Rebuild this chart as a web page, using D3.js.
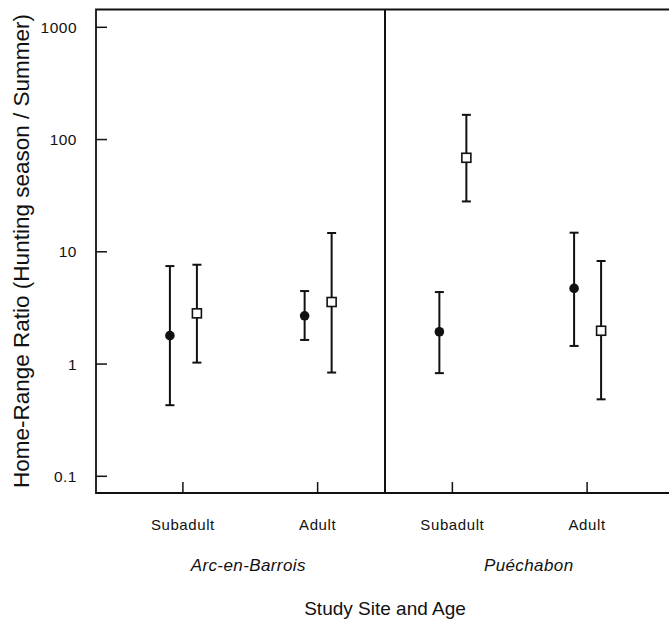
<!DOCTYPE html>
<meta charset="utf-8">
<style>
body { margin: 0; background: #fff; }
text { font-family: 'Liberation Sans', Arial, sans-serif; fill: #111; }
</style>
<body>
<script src="https://d3js.org/d3.v7.min.js"></script>
<script>
	// data
	var categories = ["arc-sub", "arc-adult", "pue-sub", "pue-adult"];
	var ageLabels = ["Subadult", "Adult", "Subadult", "Adult"];
	var siteLabels = ["Arc-en-Barrois", "Puéchabon"];
	var yTicks = [0.1, 1, 10, 100, 1000];

	// filled circles
	var circleMean = [1.79, 2.69, 1.94, 4.72];
	var circleLow  = [0.43, 1.64, 0.83, 1.45];
	var circleHigh = [7.46, 4.47, 4.38, 14.8];

	// open squares
	var squareMean = [2.83, 3.57, 68.8, 1.98];
	var squareLow  = [1.03, 0.84, 28.1, 0.485];
	var squareHigh = [7.67, 14.7, 166, 8.28];

	var width = 669, height = 631;
	var plotLeft = 96, plotRight = 674, plotTop = 9.5, plotBottom = 493;
	var ink = "#111";

	var svg = d3.select("body").append("svg")
		.attr("width", width)
		.attr("height", height);

	var x = d3.scalePoint()
		.domain(categories)
		.range([plotLeft, plotRight])
		.padding(0.645);

	var y = d3.scaleLog()
		.domain([0.1, 1000])
		.range([476.3, 27.3]);

	// frame
	svg.append("path")
		.attr("d", "M" + plotRight + "," + plotTop + "H" + plotLeft + "V" + plotBottom + "H" + plotRight)
		.attr("fill", "none")
		.style("stroke", ink)
		.style("stroke-width", 1.8);

	// site divider
	var mid = (x(categories[1]) + x(categories[2])) / 2;
	svg.append("line")
		.attr("x1", mid).attr("x2", mid)
		.attr("y1", plotTop).attr("y2", plotBottom)
		.style("stroke", ink)
		.style("stroke-width", 2);

	// y axis ticks (inward)
	var yAxis = svg.append("g");
	yTicks.forEach(function(t) {
		yAxis.append("line")
			.attr("x1", plotLeft).attr("x2", plotLeft + 11)
			.attr("y1", y(t)).attr("y2", y(t))
			.style("stroke", ink)
			.style("stroke-width", 1.5);
		yAxis.append("text")
			.attr("x", 77)
			.attr("y", y(t))
			.attr("dy", "0.36em")
			.attr("text-anchor", "end")
			.style("font-size", "15.5px")
			.style("letter-spacing", "0.5px")
			.text(t);
	});

	// x axis ticks (inward) and labels
	categories.forEach(function(c, i) {
		svg.append("line")
			.attr("x1", x(c)).attr("x2", x(c))
			.attr("y1", plotBottom).attr("y2", plotBottom - 11)
			.style("stroke", ink)
			.style("stroke-width", 1.5);
		svg.append("text")
			.attr("x", x(c))
			.attr("y", 530)
			.attr("text-anchor", "middle")
			.style("font-size", "15px")
			.style("letter-spacing", "0.6px")
			.text(ageLabels[i]);
	});

	// site labels
	siteLabels.forEach(function(s, i) {
		var cx = (x(categories[i * 2]) + x(categories[i * 2 + 1])) / 2 + (i == 1 ? 9 : -2);
		svg.append("text")
			.attr("x", cx)
			.attr("y", 571)
			.attr("text-anchor", "middle")
			.style("font-size", "17px")
			.style("font-style", "italic")
			.style("letter-spacing", "0.4px")
			.text(s);
	});

	// axis titles
	svg.append("text")
		.attr("x", 385)
		.attr("y", 615)
		.attr("text-anchor", "middle")
		.style("font-size", "19px")
		.text("Study Site and Age");

	svg.append("text")
		.attr("transform", "translate(29," + 251 + ") rotate(-90)")
		.attr("text-anchor", "middle")
		.style("font-size", "22.5px")
		.text("Home-Range Ratio (Hunting season / Summer)");

	// error bars
	function errorBars(mean, low, high, dx) {
		var g = svg.append("g");
		categories.forEach(function(c, i) {
			var px = x(c) + dx;
			g.append("line")
				.attr("x1", px).attr("x2", px)
				.attr("y1", y(low[i])).attr("y2", y(high[i]))
				.style("stroke", ink)
				.style("stroke-width", 2);
			[low[i], high[i]].forEach(function(v) {
				g.append("line")
					.attr("x1", px - 4.5).attr("x2", px + 4.5)
					.attr("y1", y(v)).attr("y2", y(v))
					.style("stroke", ink)
					.style("stroke-width", 2);
			});
		});
		return g;
	}

	var gc = errorBars(circleMean, circleLow, circleHigh, -13);
	categories.forEach(function(c, i) {
		gc.append("circle")
			.attr("cx", x(c) - 13)
			.attr("cy", y(circleMean[i]))
			.attr("r", 4.8)
			.attr("fill", ink);
	});

	var gs = errorBars(squareMean, squareLow, squareHigh, 14);
	categories.forEach(function(c, i) {
		gs.append("rect")
			.attr("x", x(c) + 14 - 4.5)
			.attr("y", y(squareMean[i]) - 4.5)
			.attr("width", 9)
			.attr("height", 9)
			.attr("fill", "#fff")
			.style("stroke", ink)
			.style("stroke-width", 1.6);
	});
</script>
</body>
</html>
